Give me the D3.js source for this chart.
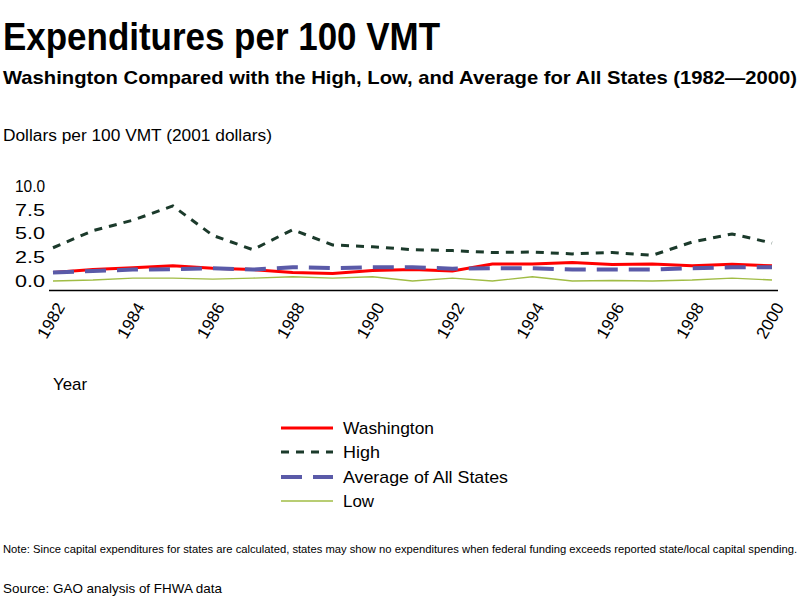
<!DOCTYPE html>
<html><head><meta charset="utf-8">
<script src="https://cdn.jsdelivr.net/npm/d3@7"></script>
<style>body{margin:0;background:#fff}svg{display:block}text{font-family:"Liberation Sans",Arial,sans-serif;fill:#000}</style>
</head><body>
<script>
const years = d3.range(1982, 2001);
const washington = [0.9,1.2,1.4,1.6,1.35,1.2,0.9,0.8,1.1,1.2,1.05,1.8,1.8,1.95,1.75,1.8,1.6,1.75,1.6];
const high = [3.5,5.3,6.4,7.9,4.8,3.3,5.4,3.8,3.6,3.3,3.2,3.0,3.05,2.85,3.0,2.7,4.1,4.95,4.0];
const average = [0.9,1.05,1.2,1.25,1.35,1.2,1.45,1.35,1.45,1.45,1.3,1.35,1.35,1.2,1.2,1.2,1.35,1.45,1.45];
const low = [0.0,0.1,0.3,0.3,0.2,0.3,0.45,0.3,0.45,0.0,0.3,0.0,0.45,0.0,0.05,0.0,0.1,0.3,0.1];
const yTicks = [0, 2.5, 5, 7.5, 10];
const xTicks = [1982,1984,1986,1988,1990,1992,1994,1996,1998,2000];
const seriesNames = ["Washington","High","Average of All States","Low"];

const W=800,H=600;
const svg=d3.select("body").append("svg").attr("width",W).attr("height",H);
const x=d3.scaleLinear().domain([1982,2000]).range([53,772]);
const y=d3.scaleLinear().domain([0,10]).range([281,186]);

const styles=[
 {color:"#ff0000",w:3,dash:null},
 {color:"#1b3a2b",w:3,dash:"8,7"},
 {color:"#5a5aa8",w:4,dash:"21,11"},
 {color:"#a0bc44",w:1.4,dash:null}
];
const data=[washington,high,average,low];

function txt(s,xx,yy,size,weight,len){
  const t=svg.append("text").attr("x",xx).attr("y",yy).attr("font-size",size).attr("font-weight",weight||"normal").text(s);
  if(len) t.attr("textLength",len).attr("lengthAdjust","spacingAndGlyphs");
  return t;
}
txt("Expenditures per 100 VMT",3,50,38,"bold",437);
txt("Washington Compared with the High, Low, and Average for All States (1982\u20142000)",3,84,19,"bold",794);
txt("Dollars per 100 VMT (2001 dollars)",3,141,16,"normal",269);

// y axis labels
const ya=svg.append("g").attr("transform","translate(45,0)").call(d3.axisLeft(y).tickValues(yTicks).tickFormat(d3.format(".1f")).tickSize(0).tickPadding(0));
ya.select(".domain").remove();
ya.selectAll("text").attr("font-size",17).attr("font-family","Liberation Sans, Arial, sans-serif").attr("fill","#000").attr("textLength",30).attr("lengthAdjust","spacingAndGlyphs");

// x axis
const xa=svg.append("g").attr("transform","translate(0,290)").call(d3.axisBottom(x).tickValues(xTicks).tickFormat(d3.format("d")).tickSize(0).tickPadding(0));
xa.select(".domain").attr("d","M49,0.5H778").attr("stroke","#000").attr("stroke-width",1.5);
xa.selectAll(".tick text").attr("font-size",17).attr("font-family","Liberation Sans, Arial, sans-serif").attr("fill","#000")
  .attr("text-anchor","end").attr("dy",null).attr("y",0)
  .attr("transform","translate(12,17) rotate(-60)").attr("textLength",38).attr("lengthAdjust","spacingAndGlyphs");

txt("Year",53,390,17,"normal",34);

// lines
const line=d3.line().x((d,i)=>x(years[i])).y(d=>y(d));
[3,0,2,1].forEach(k=>{
  svg.append("path").datum(data[k]).attr("d",line).attr("fill","none")
    .attr("stroke",styles[k].color).attr("stroke-width",styles[k].w)
    .attr("stroke-dasharray",styles[k].dash);
});

// legend
const ly=[428,452,477,501];
seriesNames.forEach((n,k)=>{
  svg.append("line").attr("x1",281).attr("x2",333).attr("y1",ly[k]).attr("y2",ly[k])
    .attr("stroke",styles[k].color).attr("stroke-width",styles[k].w).attr("stroke-dasharray",styles[k].dash);
  const lens=[91,37,165,31];
  txt(n,343,ly[k]+6,17,"normal",lens[k]);
});

txt("Note: Since capital expenditures for states are calculated, states may show no expenditures when federal funding exceeds reported state/local capital spending.",3,553,11,"normal",794);
txt("Source: GAO analysis of FHWA data",3,593,13,"normal",219);
</script>
</body></html>
